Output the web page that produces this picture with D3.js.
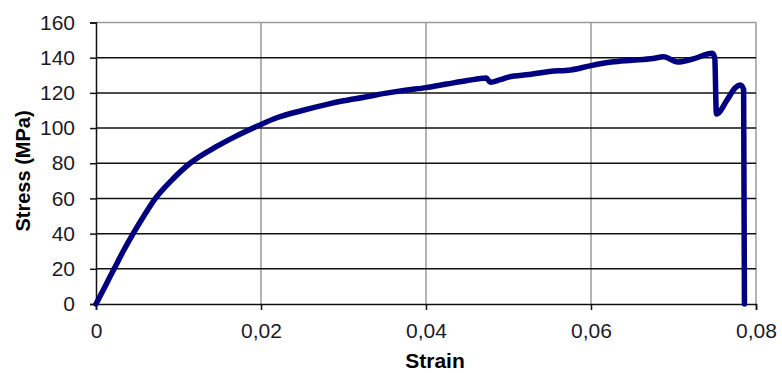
<!DOCTYPE html>
<html>
<head>
<meta charset="utf-8">
<script src="https://cdn.jsdelivr.net/npm/d3@7"></script>
<style>
  body { margin: 0; background: #fff; }
  text { font-family: "Liberation Sans", Arial, sans-serif; }
</style>
</head>
<body>
<div id="app"></div>
<script>
// stress-strain curve
let strain = [0, 0.0011, 0.0022, 0.0033, 0.0045, 0.0058, 0.0072, 0.0091, 0.0114, 0.0148,
    0.0168, 0.0195, 0.022, 0.025, 0.028, 0.030, 0.0325, 0.035, 0.0375, 0.040,
    0.0425, 0.045, 0.0473, 0.0478, 0.049, 0.050, 0.0525, 0.055, 0.0575, 0.060,
    0.0625, 0.065, 0.0675, 0.0688, 0.0705, 0.0725, 0.0747, 0.0750, 0.0752, 0.0765,
    0.0775, 0.0781, 0.0785, 0.0786];
let stress = [0, 10, 20, 30, 40, 50, 60, 70, 80, 90,
    95, 101, 106, 110, 113.5, 115.5, 117.5, 119.7, 121.5, 123,
    125, 127, 128.5, 126, 127.5, 129, 130.5, 132.2, 133, 135.5,
    137.5, 138.5, 139.5, 140.5, 137.5, 139.5, 142.5, 140, 108, 116,
    123, 124.5, 122, 0];

let xTicks = [0, 0.02, 0.04, 0.06, 0.08];
let xTickLabels = ['0', '0,02', '0,04', '0,06', '0,08'];
let yTicks = [0, 20, 40, 60, 80, 100, 120, 140, 160];

let svgWidth = 782;
let svgHeight = 373;
let margin = {top: 22.5, right: 26, bottom: 69, left: 96};

let data = strain.map((s, i) => ({x: s, y: stress[i]}));

let svg = d3.select('#app').append('svg')
    .attr('width', svgWidth)
    .attr('height', svgHeight);

let x = d3.scaleLinear().domain([0, 0.08]).range([margin.left, svgWidth - margin.right]);
let y = d3.scaleLinear().domain([0, 160]).range([svgHeight - margin.bottom, margin.top]);

        //vertical gridlines (grey)
svg.append('g')
    .selectAll('line')
    .data(xTicks.slice(1))
    .enter().append('line')
        .attr('x1', d => x(d)).attr('x2', d => x(d))
        .attr('y1', y(0)).attr('y2', y(160))
        .attr('stroke', '#9a9a9a')
        .attr('stroke-width', 1.5);

        //horizontal gridlines (black), top one grey
svg.append('g')
    .selectAll('line')
    .data(yTicks.slice(1))
    .enter().append('line')
        .attr('x1', x(0)).attr('x2', x(0.08))
        .attr('y1', d => y(d)).attr('y2', d => y(d))
        .attr('stroke', d => d === 160 ? '#9a9a9a' : '#111')
        .attr('stroke-width', 1.5);

        //axes
let yAxis = svg.append('g')
    .attr('transform', `translate(${x(0)},0)`)
    .call(d3.axisLeft(y).tickValues(yTicks).tickSize(6).tickPadding(15));

let xAxis = svg.append('g')
    .attr('transform', `translate(0,${y(0)})`)
    .call(d3.axisBottom(x).tickValues(xTicks).tickSize(6).tickPadding(13)
        .tickFormat((d, i) => xTickLabels[i]));

[xAxis, yAxis].forEach(a => {
    a.select('.domain').attr('stroke', '#111').attr('stroke-width', 1.5);
    a.selectAll('.tick line').attr('stroke', '#111').attr('stroke-width', 1.5);
    a.selectAll('.tick text')
        .attr('fill', '#1a1a2a')
        .style('font-size', '21px')
        .style('font-family', '"Liberation Sans", Arial, sans-serif');
});

        //the curve
svg.append('path')
    .datum(data)
    .attr('fill', 'none')
    .attr('stroke', '#000080')
    .attr('stroke-width', 5.5)
    .attr('stroke-linejoin', 'round')
    .attr('stroke-linecap', 'round')
    .attr('d', d3.line().curve(d3.curveMonotoneX).x(d => x(d.x)).y(d => y(d.y)));

        //axis titles
svg.append('text')
    .attr('x', 435)
    .attr('y', 368)
    .attr('text-anchor', 'middle')
    .style('font-size', '21px')
    .style('font-weight', 'bold')
    .text('Strain');

svg.append('text')
    .attr('transform', 'translate(30,171) rotate(-90)')
    .attr('text-anchor', 'middle')
    .style('font-size', '20px')
    .style('font-weight', 'bold')
    .text('Stress (MPa)');
</script>
</body>
</html>
